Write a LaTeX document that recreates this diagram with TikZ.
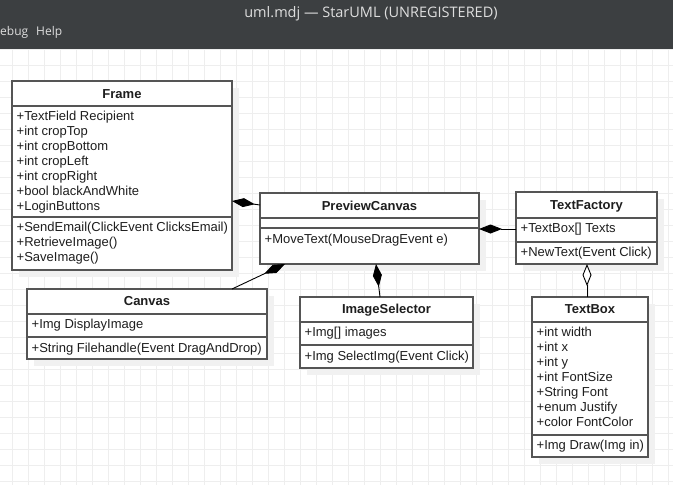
\documentclass[tikz,border=0pt]{standalone}
\usepackage{fontspec}
\setmainfont{Liberation Sans}
\newfontfamily\uifont{Open Sans}
\usetikzlibrary{arrows.meta,shadows}
\definecolor{barfill}{RGB}{60,63,65}
\definecolor{bartext}{RGB}{222,222,222}
\definecolor{gridgray}{RGB}{238,238,238}
\definecolor{shadowgray}{RGB}{241,241,241}
\definecolor{boxline}{RGB}{85,85,85}
\definecolor{textdark}{RGB}{30,30,30}
\newcommand{\umlfont}{\fontsize{13}{15}\selectfont}

\begin{document}
\begin{tikzpicture}[x=1pt, y=-1pt,
    classbox/.style={draw=boxline, line width=1.3pt, fill=white, anchor=north west, inner sep=0pt, outer sep=0pt,
        drop shadow={shadow xshift=7pt, shadow yshift=-7pt, fill=shadowgray, opacity=1}},
    classtitle/.style={anchor=base, inner sep=0pt, font=\umlfont\bfseries, text=textdark},
    members/.style={anchor=north west, inner sep=0pt, align=left, font=\umlfont, text=textdark},
    divider/.style={draw=boxline, line width=1.3pt},
    menutext/.style={inner sep=0pt, text=bartext, font=\uifont\fontsize{12}{14}\selectfont},
    composition/.style={-{Diamond[length=23pt, width=9pt]}, line width=0.9pt, draw=black},
    aggregation/.style={-{Diamond[length=22pt, width=9pt, fill=white]}, line width=0.9pt, draw=black}
]
\useasboundingbox (0,0) rectangle (673,485);

% canvas grid and window bar
\foreach \gx in {0,...,41}
    \draw[gridgray, line width=1pt] ({12.3+16*\gx},48) -- ({12.3+16*\gx},485);
\foreach \gy in {0,...,27}
    \draw[gridgray, line width=1pt] (0,{49+16*\gy}) -- (673,{49+16*\gy});
\fill[barfill] (0,0) rectangle (673,48.5);
\node[menutext, font=\uifont\fontsize{14.5}{16}\selectfont, anchor=base] (wintitle) at (371,17.5) {uml.mdj — StarUML (UNREGISTERED)};
\node[menutext, anchor=base west] (menudebug) at (0,35.3) {ebug};
\node[menutext, anchor=base west] (menuhelp) at (36,35.3) {Help};

% Frame
\node[classbox, minimum width=220pt, minimum height=189pt] (frame) at (12,81) {};
\node[classtitle] (frametitle) at (122,98) {Frame};
\draw[divider] (frame.west |- 0,106) -- (frame.east |- 0,106);
\node[members] (frameattrs) at (16.5,110.2) {\strut+TextField Recipient\\+int cropTop\\+int cropBottom\\+int cropLeft\\+int cropRight\\+bool blackAndWhite\\+LoginButtons};
\draw[divider] (frame.west |- 0,217) -- (frame.east |- 0,217);
\node[members] (frameops) at (16.5,221.2) {\strut+SendEmail(ClickEvent ClicksEmail)\\+RetrieveImage()\\+SaveImage()};

% PreviewCanvas
\node[classbox, minimum width=219pt, minimum height=71pt] (preview) at (260,193) {};
\node[classtitle] (previewtitle) at (369.5,210) {PreviewCanvas};
\draw[divider] (preview.west |- 0,218) -- (preview.east |- 0,218);
\draw[divider] (preview.west |- 0,228) -- (preview.east |- 0,228);
\node[members] (previewops) at (264.5,233.2) {\strut+MoveText(MouseDragEvent e)};

% TextFactory
\node[classbox, minimum width=141pt, minimum height=72pt] (tfactory) at (516,192) {};
\node[classtitle] (tfactorytitle) at (586.5,209.5) {TextFactory};
\draw[divider] (tfactory.west |- 0,218) -- (tfactory.east |- 0,218);
\node[members] (tfactoryattrs) at (520.5,222.2) {\strut+TextBox[] Texts};
\draw[divider] (tfactory.west |- 0,242) -- (tfactory.east |- 0,242);
\node[members] (tfactoryops) at (520.5,246.2) {\strut+NewText(Event Click)};

% Canvas
\node[classbox, minimum width=240pt, minimum height=70pt] (canvas) at (27,289) {};
\node[classtitle] (canvastitle) at (147,305.5) {Canvas};
\draw[divider] (canvas.west |- 0,314) -- (canvas.east |- 0,314);
\node[members] (canvasattrs) at (31.5,318.2) {\strut+Img DisplayImage};
\draw[divider] (canvas.west |- 0,337) -- (canvas.east |- 0,337);
\node[members] (canvasops) at (31.5,342.2) {\strut+String Filehandle(Event DragAndDrop)};

% ImageSelector
\node[classbox, minimum width=173pt, minimum height=71pt] (imgsel) at (300,297) {};
\node[classtitle] (imgseltitle) at (386.5,313.5) {ImageSelector};
\draw[divider] (imgsel.west |- 0,322) -- (imgsel.east |- 0,322);
\node[members] (imgselattrs) at (304.5,326.2) {\strut+Img[] images};
\draw[divider] (imgsel.west |- 0,345) -- (imgsel.east |- 0,345);
\node[members] (imgselops) at (304.5,350.2) {\strut+Img SelectImg(Event Click)};

% TextBox
\node[classbox, minimum width=116pt, minimum height=160pt] (textbox) at (532,297) {};
\node[classtitle] (textboxtitle) at (590,313.5) {TextBox};
\draw[divider] (textbox.west |- 0,322) -- (textbox.east |- 0,322);
\node[members] (textboxattrs) at (536.5,326.2) {\strut+int width\\+int x\\+int y\\+int FontSize\\+String Font\\+enum Justify\\+color FontColor};
\draw[divider] (textbox.west |- 0,435) -- (textbox.east |- 0,435);
\node[members] (textboxops) at (536.5,439.2) {\strut+Img Draw(Img in)};

% associations
\draw[composition] (preview.west |- 0,205) -- (frame.east |- 0,201);
\draw[composition] (tfactory.west |- 0,229) -- (preview.east |- 0,229);
\draw[composition] (232,0 |- canvas.north) -- (285,0 |- preview.south);
\draw[composition] (380,0 |- imgsel.north) -- (376,0 |- preview.south);
\draw[aggregation] (587,0 |- textbox.north) -- (587,0 |- tfactory.south);

\end{tikzpicture}
\end{document}
